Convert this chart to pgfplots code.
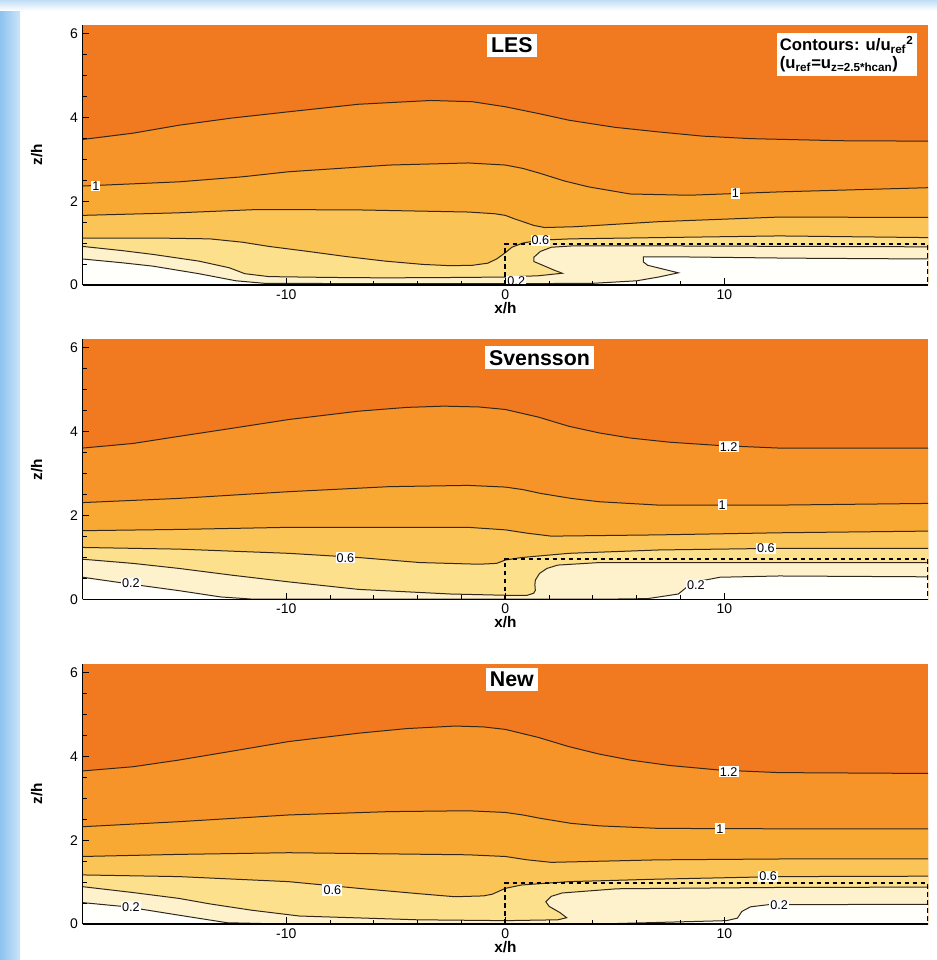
\documentclass[border=0pt]{standalone}
\usepackage{fontspec}
\setmainfont{Liberation Sans}
\usepackage{pgfplots}
\pgfplotsset{compat=1.18}
\usepackage{pgfplotstable}

\definecolor{c12}{RGB}{241,121,32}
\definecolor{c10}{RGB}{246,148,42}
\definecolor{c08}{RGB}{248,169,52}
\definecolor{c06}{RGB}{250,196,86}
\definecolor{c04}{RGB}{252,224,140}
\definecolor{c02}{RGB}{253,242,204}
\definecolor{c00}{RGB}{255,255,252}
\definecolor{cline}{RGB}{50,40,30}
\definecolor{bgblue}{RGB}{140,195,240}

% ---------- LES ----------
\pgfplotstableread{
x z
-19.3 3.47
-17 3.62
-14.9 3.81
-12.5 3.98
-9.9 4.13
-6.7 4.31
-3.4 4.40
-1.5 4.37
0 4.25
1.5 4.09
2.9 3.93
5 3.76
7.0 3.65
9 3.55
11.2 3.49
15.3 3.44
19.3 3.43
}\Aa
\pgfplotstableread{
x z
-19.3 2.36
-14.9 2.46
-12 2.58
-9.9 2.70
-5.3 2.86
-1.7 2.91
0 2.86
0.8 2.78
1.6 2.66
2.7 2.48
3.8 2.34
5.7 2.17
8.4 2.14
12.5 2.22
19.3 2.32
}\Ab
\pgfplotstableread{
x z
-19.3 1.66
-15 1.72
-11.3 1.80
-6.7 1.79
-1.7 1.74
-0.5 1.70
0 1.66
0.4 1.58
0.8 1.51
1.3 1.42
1.8 1.37
3.2 1.39
7 1.51
12.5 1.62
19.3 1.61
}\Ac
\pgfplotstableread{
x z
-19.3 1.12
-16 1.12
-13.5 1.10
-12 1.02
-10.8 0.92
-9 0.80
-7.3 0.68
-5.5 0.57
-3.75 0.49
-2.5 0.46
-1.5 0.47
-0.8 0.52
-0.4 0.62
0 0.77
0.3 0.90
0.8 1.00
1.6 1.07
3 1.10
7 1.13
12.5 1.17
19.3 1.13
}\Ad
\pgfplotstableread{
x z
-19.3 0.92
-17.5 0.82
-16.1 0.73
-14 0.57
-12.6 0.41
-11.9 0.27
-10.8 0.20
-8 0.18
-5.5 0.17
-2 0.18
0 0.19
1.5 0.22
2.6 0.28
2.2 0.36
1.8 0.45
1.3 0.56
1.3 0.66
1.6 0.80
2.1 0.90
3 0.93
8 0.93
19.3 0.91
}\Ae
\pgfplotstableread{
x z
-19.3 0.62
-17.5 0.53
-16.1 0.45
-14 0.27
-12.3 0.10
-11 0.04
-5 0.03
0 0.03
4 0.04
6 0.10
7 0.19
7.9 0.29
7.2 0.38
6.5 0.47
6.3 0.55
6.3 0.67
8 0.67
13 0.64
19.3 0.62
}\Af

% ---------- Svensson ----------
\pgfplotstableread{
x z
-19.3 3.61
-17 3.72
-14.9 3.89
-12.5 4.08
-9.9 4.29
-6.7 4.49
-4.5 4.58
-2.8 4.61
-1.2 4.59
0 4.53
1.5 4.35
2.9 4.13
4.3 3.97
5.7 3.85
7.5 3.75
9.8 3.67
12.5 3.61
19.3 3.61
}\Ba
\pgfplotstableread{
x z
-19.3 2.31
-14.9 2.41
-9.9 2.57
-5.3 2.69
-1.7 2.72
0 2.68
0.8 2.62
1.6 2.53
3 2.41
4.3 2.33
7 2.25
12.5 2.25
19.3 2.29
}\Bb
\pgfplotstableread{
x z
-19.3 1.64
-14.9 1.67
-9.9 1.72
-1.7 1.72
0 1.66
1.0 1.58
2.1 1.51
7 1.54
12.5 1.59
19.3 1.63
}\Bc
\pgfplotstableread{
x z
-19.3 1.24
-14.9 1.20
-9.9 1.10
-6.7 1.00
-3.9 0.88
-1.2 0.84
-0.4 0.86
0 0.94
0.74 1.00
2.9 1.10
7 1.18
12.5 1.22
19.3 1.22
}\Bd
\pgfplotstableread{
x z
-19.3 0.96
-17 0.86
-14.9 0.74
-12.5 0.58
-9.9 0.42
-6.7 0.24
-2.5 0.13
0 0.10
1.0 0.10
1.3 0.15
1.37 0.22
1.35 0.35
1.37 0.46
1.56 0.62
1.9 0.74
2.4 0.82
4.3 0.88
19.3 0.88
}\Be
\pgfplotstableread{
x z
-19.3 0.53
-17.3 0.38
-14.9 0.21
-13 0.06
-11.6 0.01
-5 0.01
5 0.01
6.5 0.02
7.9 0.13
8.3 0.30
8.7 0.42
9.8 0.53
12.5 0.56
19.3 0.54
}\Bf

% ---------- New ----------
\pgfplotstableread{
x z
-19.3 3.65
-17 3.75
-14.9 3.91
-12.5 4.12
-9.9 4.35
-6.7 4.55
-4.5 4.66
-2.3 4.72
-1 4.70
0 4.64
1.5 4.45
2.9 4.23
4.3 4.05
5.7 3.91
7.5 3.78
9.8 3.67
12.5 3.61
19.3 3.59
}\Ca
\pgfplotstableread{
x z
-19.3 2.32
-14.9 2.44
-9.9 2.60
-5.3 2.68
-1.7 2.70
0 2.66
0.8 2.60
1.6 2.52
3 2.40
4.3 2.34
7 2.28
12.5 2.27
19.3 2.27
}\Cb
\pgfplotstableread{
x z
-19.3 1.61
-14.9 1.66
-9.9 1.70
-1.7 1.65
0 1.61
1.0 1.53
2.1 1.47
7 1.53
12.5 1.55
19.3 1.55
}\Cc
\pgfplotstableread{
x z
-19.3 1.17
-14.9 1.13
-9.9 1.01
-6.7 0.85
-3.9 0.72
-2.3 0.65
-1 0.67
-0.6 0.71
0 0.85
0.74 0.93
2.9 1.01
7 1.07
12.5 1.13
19.3 1.14
}\Cd
\pgfplotstableread{
x z
-19.3 0.89
-17 0.75
-14.9 0.61
-13.5 0.48
-11.6 0.33
-9.4 0.19
-4 0.10
0 0.08
2.4 0.10
2.8 0.15
2.5 0.27
2.0 0.42
1.85 0.53
2.1 0.66
2.6 0.74
5.1 0.84
12 0.87
19.3 0.88
}\Ce
\pgfplotstableread{
x z
-19.3 0.51
-17.3 0.41
-14.9 0.21
-12.7 0.03
-11 0.01
5 0.01
7.9 0.05
10.1 0.08
10.6 0.14
10.8 0.30
11.2 0.41
12 0.46
19.3 0.47
}\Cf

\pgfplotsset{
 panel/.style={
  scale only axis, width=634pt, height=195pt,
  xmin=-19.3, xmax=19.3, ymin=0, ymax=6.2,
  axis x line*=bottom, axis y line*=left,
  axis line style={-, line width=1.1pt, black},
  axis on top, no markers,
  axis background/.style={fill=c12},
  xtick={-10,0,10}, ytick={0,2,4,6},
  minor x tick num=4, minor y tick num=3,
  tick align=inside,
  major tick length=5pt, minor tick length=3pt,
  tick style={black, line width=0.7pt},
  /pgf/number format/assume math mode=true,
  ticklabel style={font=\fontsize{10.5}{12}\selectfont},
  xlabel={\textbf{x/h}}, ylabel={\textbf{z/h}},
  label style={font=\fontsize{11.5}{13}\selectfont},
  xlabel style={yshift=5pt},
  ylabel style={yshift=14pt},
 },
}
\tikzset{
 band/.style={draw=none, fill=#1},
 cont/.style={cline, line width=0.75pt},
 clab/.style={fill=white, inner sep=0.8pt, font=\fontsize{9.5}{10}\selectfont},
 ttl/.style={fill=white, inner sep=3pt, font=\bfseries\fontsize{16}{19}\selectfont},
}

\newcommand{\fields}[6]{%
 \addplot[band=c10] table {#1} -- (axis cs:19.3,0) -- (axis cs:-19.3,0) -- cycle;
 \addplot[band=c08] table {#2} -- (axis cs:19.3,0) -- (axis cs:-19.3,0) -- cycle;
 \addplot[band=c06] table {#3} -- (axis cs:19.3,0) -- (axis cs:-19.3,0) -- cycle;
 \addplot[band=c04] table {#4} -- (axis cs:19.3,0) -- (axis cs:-19.3,0) -- cycle;
 \addplot[band=c02] table {#5} -- (axis cs:19.3,0) -- (axis cs:-19.3,0) -- cycle;
 \addplot[band=c00] table {#6} -- (axis cs:19.3,0) -- (axis cs:-19.3,0) -- cycle;
 \addplot[cont] table {#1};
 \addplot[cont] table {#2};
 \addplot[cont] table {#3};
 \addplot[cont] table {#4};
 \addplot[cont] table {#5};
 \addplot[cont] table {#6};
 \addplot[black, line width=1.4pt, dash pattern=on 3.5pt off 2.5pt] coordinates {(0,0) (0,0.97) (19.3,0.97) (19.3,0)};
}

\begin{document}
\begin{tikzpicture}
\useasboundingbox (0,0) rectangle (702.75pt,720pt);
\fill[white] (0,0) rectangle (702.75pt,720pt);
\shade[left color=bgblue, right color=bgblue!45] (0,0) rectangle (15pt,720pt);
\shade[top color=bgblue!55, bottom color=white] (0,712pt) rectangle (702.75pt,720pt);

% LES
\begin{axis}[panel, at={(62pt,506.25pt)}, anchor=south west]
\fields{\Aa}{\Ab}{\Ac}{\Ad}{\Ae}{\Af}
\node[clab] at (axis cs:-18.7,2.36) {1};
\node[clab] at (axis cs:10.5,2.19) {1};
\node[clab] at (axis cs:1.6,1.06) {0.6};
\node[clab] at (axis cs:0.5,0.09) {0.2};
\node[ttl] at (axis cs:0.3,5.71) {LES};
\node[fill=white, inner sep=2.5pt, anchor=north east, align=left, font=\bfseries\fontsize{12.5}{14}\selectfont] at (axis cs:18.8,6.02)
 {Contours: u/u\textsubscript{ref}\textsuperscript{2}\\(u\textsubscript{ref}=u\textsubscript{z=2.5*hcan})};
\end{axis}

% Svensson
\begin{axis}[panel, at={(62pt,270.4pt)}, anchor=south west]
\fields{\Ba}{\Bb}{\Bc}{\Bd}{\Be}{\Bf}
\node[clab] at (axis cs:10.2,3.64) {1.2};
\node[clab] at (axis cs:9.9,2.26) {1};
\node[clab] at (axis cs:-7.3,0.99) {0.6};
\node[clab] at (axis cs:11.9,1.22) {0.6};
\node[clab] at (axis cs:-17.1,0.38) {0.2};
\node[clab] at (axis cs:8.7,0.33) {0.2};
\node[ttl] at (axis cs:1.56,5.76) {Svensson};
\end{axis}

% New
\begin{axis}[panel, at={(62pt,27pt)}, anchor=south west]
\fields{\Ca}{\Cb}{\Cc}{\Cd}{\Ce}{\Cf}
\node[clab] at (axis cs:10.2,3.63) {1.2};
\node[clab] at (axis cs:9.8,2.27) {1};
\node[clab] at (axis cs:-7.9,0.81) {0.6};
\node[clab] at (axis cs:12,1.14) {0.6};
\node[clab] at (axis cs:-17.1,0.41) {0.2};
\node[clab] at (axis cs:12.5,0.45) {0.2};
\node[ttl] at (axis cs:0.3,5.83) {New};
\end{axis}
\end{tikzpicture}
\end{document}
